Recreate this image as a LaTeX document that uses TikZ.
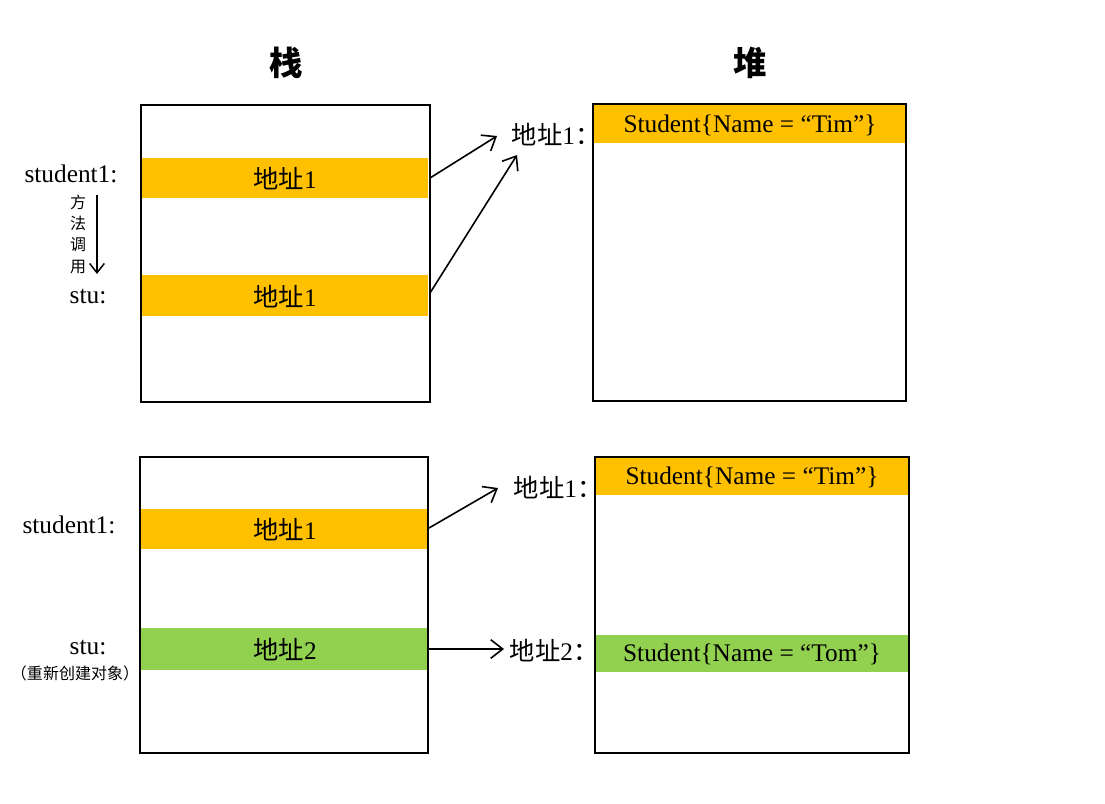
\documentclass[tikz,border=0pt]{standalone}
\usepackage{fontspec}
\setmainfont{Liberation Serif}
\newfontfamily\cjk{Noto Sans CJK SC}
\usetikzlibrary{arrows.meta}
\definecolor{barorange}{HTML}{FFC000}
\definecolor{bargreen}{HTML}{92D050}
\def\px{0.75pt}
\tikzset{
  box/.style={draw=black, line width=1.1pt, inner sep=0pt},
  bar/.style={inner sep=0pt, font=\fontsize{19}{21}\selectfont},
  lab/.style={inner sep=0pt, font=\fontsize{19}{21}\selectfont},
  title/.style={inner sep=0pt, font=\cjk\bfseries\fontsize{25}{27}\selectfont},
  small/.style={inner sep=0pt, font=\cjk\fontsize{12}{13}\selectfont},
  arr/.style={line width=1.2pt, -{Straight Barb[length=9pt,width=14pt,line width=1.2pt]}},
}
\begin{document}
\begin{tikzpicture}[x=0.75pt,y=-0.75pt]
\useasboundingbox (0,0) rectangle (1105,803);
% titles
\node[title] (t1) at (286,63) {栈};
\node[title] (t2) at (750,63) {堆};
% ---------- top ----------
\fill[barorange] (141,158) rectangle (428,198);
\node[bar] (a1) at (285,179) {{\cjk 地址}1};
\fill[barorange] (141,275) rectangle (428,316);
\node[bar] (a2) at (285,297) {{\cjk 地址}1};
\fill[barorange] (594,105) rectangle (906,143);
\node[bar] (o1) at (750,125) {Student\{Name = “Tim”\}};
\node[box, minimum width=289*\px, minimum height=297*\px] (s1) at (285.5,253.5) {};
\node[box, minimum width=313*\px, minimum height=297*\px] (h1) at (749.5,252.5) {};
\node[lab] (l1) at (71,174) {student1:};
\node[lab] (l2) at (88,297) {stu:};
\node[small, align=center] (m) at (78,234) {方\\[3pt]法\\[3pt]调\\[3pt]用};
\coordinate (ms) at (97,195);
\coordinate (me) at (97,274);
\draw[line width=1.1pt, -{Straight Barb[length=7pt,width=11pt,line width=1.1pt]}] (ms) -- (me);
\node[lab] (k1) at (556,135) {{\cjk 地址}1{\cjk ：}};
\coordinate (p1) at (430,178);
\coordinate (p2) at (430,293);
\coordinate (q1) at (497,136);
\coordinate (q2) at (517,155);
\draw[arr] (p1) -- (q1);
\draw[arr] (p2) -- (q2);
% ---------- bottom ----------
\fill[barorange] (141,509) rectangle (428,549);
\node[bar] (a3) at (285,530) {{\cjk 地址}1};
\fill[bargreen] (141,628) rectangle (428,670);
\node[bar] (a4) at (285,650) {{\cjk 地址}2};
\fill[barorange] (596,458) rectangle (909,495);
\node[bar] (o2) at (752,477) {Student\{Name = “Tim”\}};
\fill[bargreen] (596,635) rectangle (909,672);
\node[bar] (o3) at (752,654) {Student\{Name = “Tom”\}};
\node[box, minimum width=288*\px, minimum height=296*\px] (s2) at (284,605) {};
\node[box, minimum width=314*\px, minimum height=296*\px] (h2) at (752,605) {};
\node[lab] (l3) at (69,525) {student1:};
\node[lab] (l4) at (88,648) {stu:};
\node[small] (l5) at (75,673) {（重新创建对象）};
\node[lab] (k2) at (558,488) {{\cjk 地址}1{\cjk ：}};
\node[lab] (k3) at (554,651) {{\cjk 地址}2{\cjk ：}};
\coordinate (p3) at (429,528);
\coordinate (p4) at (429,649);
\coordinate (q3) at (498,488);
\coordinate (q4) at (504,649);
\draw[arr] (p3) -- (q3);
\draw[arr] (p4) -- (q4);
\end{tikzpicture}
\end{document}
